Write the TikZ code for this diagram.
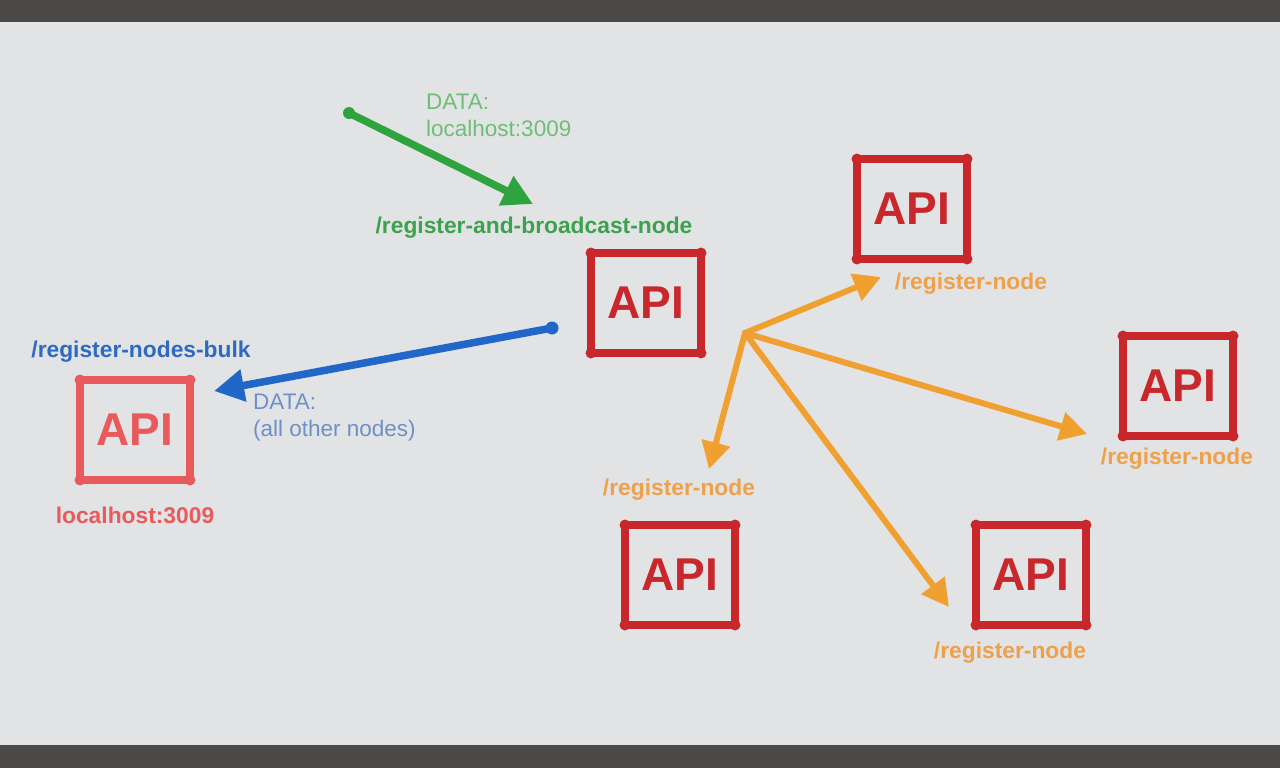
\documentclass[tikz,border=0pt]{standalone}
\usepackage{fontspec}
\setmainfont{Liberation Sans}
\usetikzlibrary{arrows.meta}
\definecolor{bg}{HTML}{E2E3E4}
\definecolor{bar}{HTML}{4B4948}
\definecolor{apired}{HTML}{C8282C}
\definecolor{apilight}{HTML}{E85A5C}
\definecolor{grn}{HTML}{2FA33E}
\definecolor{grnlbl}{HTML}{3DA24E}
\definecolor{grntxt}{HTML}{6FBE78}
\definecolor{blu}{HTML}{2167C8}
\definecolor{blulbl}{HTML}{2E6BC0}
\definecolor{blutxt}{HTML}{6E90C8}
\definecolor{org}{HTML}{F0A030}
\definecolor{orglbl}{HTML}{EFA04A}
\begin{document}
\begin{tikzpicture}[x=1pt,y=-1pt,
  apibox/.style={draw=#1, text=#1, line width=8pt, line join=round, outer sep=0pt,
    minimum width=110pt, minimum height=100pt, inner sep=0pt,
    font=\fontsize{46}{46}\selectfont\bfseries},
  apibox/.default=apired,
  boldlbl/.style={text=#1, font=\fontsize{22.8}{24}\selectfont\bfseries, inner sep=0pt},
  datalbl/.style={text=#1, font=\fontsize{22.5}{27}\selectfont, align=left, inner sep=0pt, anchor=north west},
  arr/.style={draw=#1, line width=7.5pt, line cap=round, -{Triangle[length=30pt,width=31pt]}},
  oarr/.style={draw=org, line width=6pt, line cap=round, -{Triangle[length=27pt,width=28pt]}}
]
\useasboundingbox (0,0) rectangle (1280,768);
\fill[bg] (0,0) rectangle (1280,768);
\fill[bar] (0,0) rectangle (1280,22);
\fill[bar] (0,745) rectangle (1280,768);

% API boxes
\node[apibox] (c)  at (646,303) {API};
\node[apibox] (tr) at (912,209) {API};
\node[apibox] (r)  at (1178,386) {API};
\node[apibox] (bl) at (680,575) {API};
\node[apibox] (br) at (1031,575) {API};
\node[apibox=apilight] (l) at (135,430) {API};
\foreach \n in {c,tr,r,bl,br}
  \foreach \k in {north west,north east,south west,south east}
    \fill[apired] (\n.\k) circle (5.5);
\foreach \k in {north west,north east,south west,south east}
  \fill[apilight] (l.\k) circle (5.5);

% labels
\node[boldlbl=grnlbl] (lrb) at (534,228) {/register-and-broadcast-node};
\node[boldlbl=blulbl] (lbulk) at (141,352) {/register-nodes-bulk};
\node[boldlbl=apilight] (lhost) at (135,515) {localhost:3009};
\node[boldlbl=orglbl] (ltr) at (971,284) {/register-node};
\node[boldlbl=orglbl] (lr) at (1177,459) {/register-node};
\node[boldlbl=orglbl] (lbl) at (679,490) {/register-node};
\node[boldlbl=orglbl] (lbr) at (1010,653) {/register-node};
\node[datalbl=grntxt] (dg) at (426,94) {DATA:\\localhost:3009};
\node[datalbl=blutxt] (db) at (253,394) {DATA:\\(all other nodes)};

% connector end points
\coordinate (gs) at (349,113);
\coordinate (ge) at (533,204);
\coordinate (bs) at (552,328);
\coordinate (be) at (214,391);
\coordinate (hub) at (745,333);
\coordinate (o1) at (881,277);
\coordinate (o2) at (1087,434);
\coordinate (o3) at (709,469);
\coordinate (o4) at (949,607);

\draw[arr=grn] (gs) -- (ge);
\fill[grn] (gs) circle (6);
\draw[arr=blu] (bs) -- (be);
\fill[blu] (bs) circle (6.5);
\draw[oarr] (hub) -- (o1);
\draw[oarr] (hub) -- (o2);
\draw[oarr] (hub) -- (o3);
\draw[oarr] (hub) -- (o4);
\end{tikzpicture}
\end{document}
